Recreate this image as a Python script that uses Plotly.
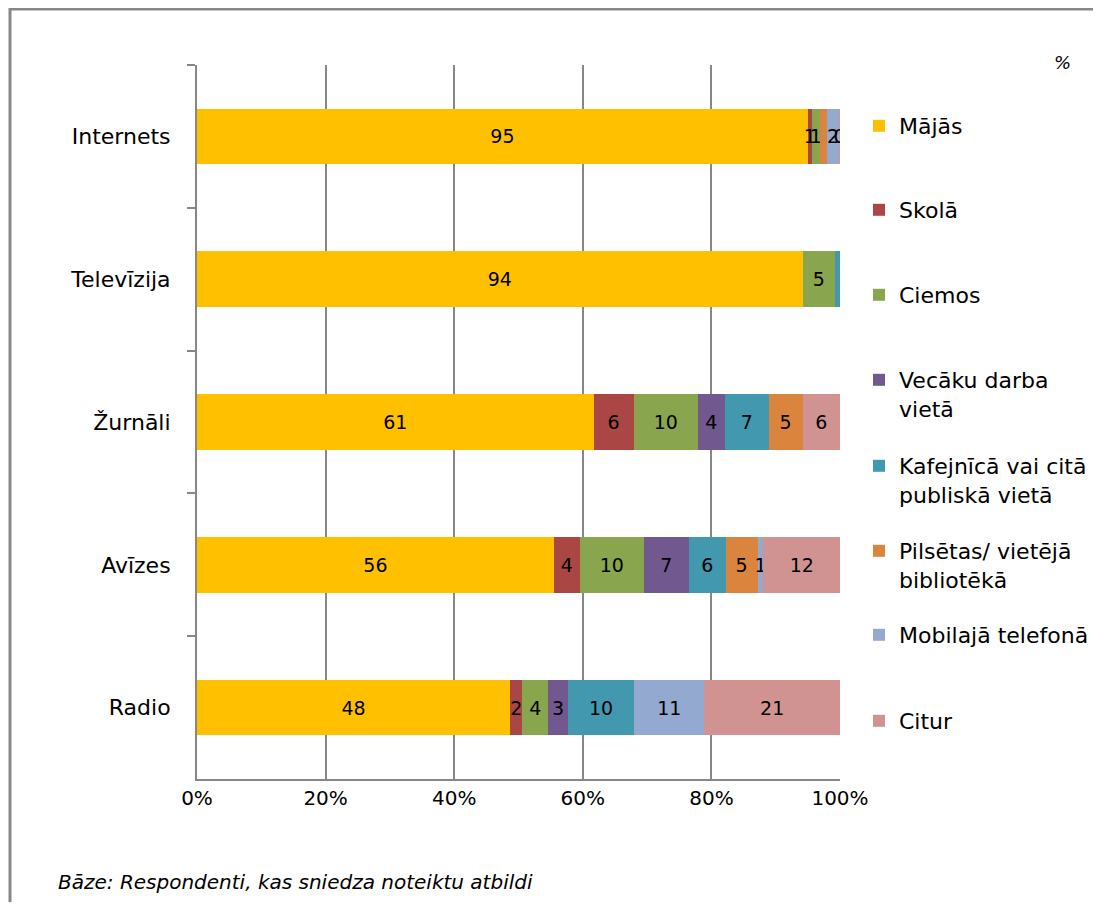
import plotly.graph_objects as go

categories = ["Internets", "Televīzija", "Žurnāli", "Avīzes", "Radio"]
series_names = ["Mājās", "Skolā", "Ciemos", "Vecāku darba<br>vietā",
                "Kafejnīcā vai citā<br>publiskā vietā", "Pilsētas/ vietējā<br>bibliotēkā",
                "Mobilajā telefonā", "Citur"]
colors = ["#FFC000", "#AA4643", "#89A54E", "#71588F", "#4198AF", "#DB843D", "#93A9CF", "#D19392"]

majas = [95.0, 94.2, 61.7, 55.5, 48.7]
skola = [0.6, 0.0, 6.2, 4.0, 1.9]
ciemos = [1.3, 5.0, 10.0, 10.0, 4.0]
vecaku = [0.0, 0.0, 4.2, 7.0, 3.1]
kafejnica = [0.0, 0.8, 6.8, 5.7, 10.3]
pilsetas = [1.0, 0.0, 5.3, 5.0, 0.0]
mobilaja = [2.0, 0.0, 0.0, 0.9, 10.9]
citur = [0.1, 0.0, 5.8, 11.9, 21.1]

majas_lbl = ["95", "94", "61", "56", "48"]
skola_lbl = ["1", "", "6", "4", "2"]
ciemos_lbl = ["1", "5", "10", "10", "4"]
vecaku_lbl = ["", "", "4", "7", "3"]
kafejnica_lbl = ["", "", "7", "6", "10"]
pilsetas_lbl = ["", "", "5", "5", ""]
mobilaja_lbl = ["2", "", "", "1", "11"]
citur_lbl = ["0", "", "6", "12", "21"]

values = [majas, skola, ciemos, vecaku, kafejnica, pilsetas, mobilaja, citur]
labels = [majas_lbl, skola_lbl, ciemos_lbl, vecaku_lbl, kafejnica_lbl, pilsetas_lbl, mobilaja_lbl, citur_lbl]

x_ticks = [0, 20, 40, 60, 80, 100]
x_tick_text = ["0%", "20%", "40%", "60%", "80%", "100%"]

FONT = "DejaVu Sans"
OFF = 8  # page body margin
W, H = 1101 - 2 * OFF, 910 - 2 * OFF
L, T = 197 - OFF, 65 - OFF
R = (W + OFF) - 840
B = (H + OFF) - 779
pw, ph = W - L - R, H - T - B


def px_x(p):
    return (p - OFF - L) / pw


def px_y(p):
    return (H - B - (p - OFF)) / ph


def cx(p):
    return (p - OFF) / W


def cy(p):
    return 1 - (p - OFF) / H


legend_y_px = [127, 211, 296, 381, 467, 552, 636, 722]

fig = go.Figure()
legends = {}
for i, (name, vals, lbl, col) in enumerate(zip(series_names, values, labels, colors)):
    lname = "legend" if i == 0 else f"legend{i+1}"
    fig.add_trace(go.Bar(
        y=categories, x=vals, name=name, orientation="h",
        marker=dict(color=col, line=dict(width=0)),
        text=lbl, textposition="inside", insidetextanchor="middle",
        textfont=dict(family=FONT, size=19, color="black"),
        legend=lname, hoverinfo="x+name", showlegend=True,
    ))
    legends[lname] = dict(
        xref="container", yref="container",
        x=cx(859), y=cy(legend_y_px[i] - 22), xanchor="left", yanchor="top",
        font=dict(family=FONT, size=22, color="black"), bgcolor="rgba(0,0,0,0)",
        valign="top", itemwidth=30, visible=True,
    )

fig.update_layout(
    barmode="stack", bargap=0.61,
    width=W, height=H, showlegend=True,
    margin=dict(l=L, r=R, t=T, b=B, autoexpand=False),
    plot_bgcolor="white", paper_bgcolor="white",
    font=dict(family=FONT, size=20, color="black"),
    uniformtext=dict(minsize=19, mode="show"),
    xaxis=dict(range=[0, 100], tickvals=x_ticks, ticktext=x_tick_text,
               showgrid=True, gridcolor="#878787", gridwidth=1.5,
               showline=True, linecolor="#878787", linewidth=1.5,
               zeroline=False, ticks="", tickfont=dict(family=FONT, size=20)),
    yaxis=dict(autorange="reversed", showline=True, linecolor="#878787", linewidth=2,
               ticks="outside", tickson="boundaries", ticklen=8, tickcolor="#878787",
               tickwidth=1.5, showgrid=False, tickfont=dict(family=FONT, size=22),
               ticklabelstandoff=20),
    **legends,
)

fig.add_annotation(text="%", xref="paper", yref="paper", x=px_x(1062), y=px_y(62),
                   xanchor="center", yanchor="middle",
                   showarrow=False, font=dict(family=FONT, size=18, color="black", style="italic"))
fig.add_annotation(text="Bāze: Respondenti, kas sniedza noteiktu atbildi", xref="paper", yref="paper",
                   x=px_x(56), y=px_y(882), xanchor="left", yanchor="middle", showarrow=False,
                   font=dict(family=FONT, size=20, color="black", style="italic"))
fig.add_shape(type="rect", xref="paper", yref="paper",
              x0=px_x(10), y0=px_y(930), x1=px_x(1130), y1=px_y(9),
              line=dict(color="#878787", width=3), fillcolor="rgba(0,0,0,0)", layer="above")

fig.write_html("out.html")
